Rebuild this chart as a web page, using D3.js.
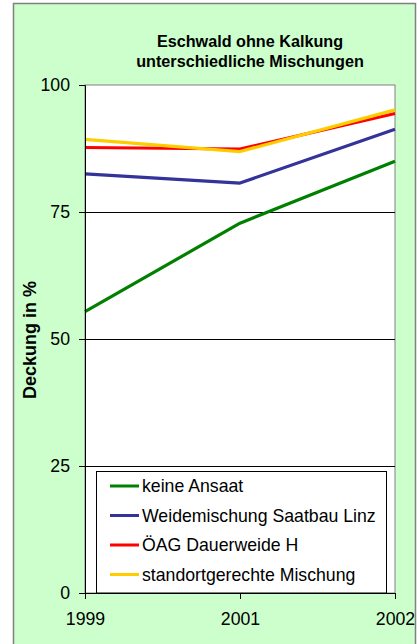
<!DOCTYPE html>
<html>
<head>
<meta charset="utf-8">
<script src="https://cdn.jsdelivr.net/npm/d3@7"></script>
<style>
html,body{margin:0;padding:0;background:#fff;}
svg{display:block;font-family:"Liberation Sans",Arial,sans-serif;}
</style>
</head>
<body>
<svg id="c" width="419" height="644"></svg>
<script>
const years = ["1999", "2001", "2002"];
const seriesNames = ["keine Ansaat", "Weidemischung Saatbau Linz", "ÖAG Dauerweide H", "standortgerechte Mischung"];
const keineAnsaat = [55.4, 72.8, 85.0];
const weidemischung = [82.5, 80.7, 91.3];
const oeagDauerweide = [87.7, 87.4, 94.4];
const standortgerecht = [89.3, 86.9, 95.1];
const seriesColors = ["#008000", "#333399", "#FF0000", "#FFCC00"];
const yTicks = [0, 25, 50, 75, 100];
const titleLines = ["Eschwald ohne Kalkung", "unterschiedliche Mischungen"];
const yTitle = "Deckung in %";

const series = [keineAnsaat, weidemischung, oeagDauerweide, standortgerecht];

const svg = d3.select("#c");
const L = 85, R = 395, T = 85, B = 593;

// chart area
svg.append("rect").attr("x", 13.5).attr("y", 3.5).attr("width", 402).attr("height", 660)
  .attr("fill", "#CCFFCC").attr("stroke", "#808080").attr("stroke-width", 1.5);

const x = d3.scalePoint().domain(years).range([L, R]);
const y = d3.scaleLinear().domain([0, 100]).range([B, T]);

// plot area
svg.append("rect").attr("x", L).attr("y", T).attr("width", R - L).attr("height", B - T)
  .attr("fill", "#fff").attr("stroke", "#808080").attr("stroke-width", 1);

// gridlines
svg.append("g").selectAll("line").data(yTicks.filter(d => d > 0 && d < 100)).join("line")
  .attr("x1", L).attr("x2", R).attr("y1", d => Math.round(y(d)) + 0.5).attr("y2", d => Math.round(y(d)) + 0.5)
  .attr("stroke", "#000").attr("stroke-width", 1);

// legend box
const legX = 96.5, legY = 471.5, legW = 290, legH = B - 471.5;
const leg = svg.append("g");
leg.append("rect").attr("x", legX).attr("y", legY).attr("width", legW).attr("height", legH)
  .attr("fill", "#fff").attr("stroke", "#000").attr("stroke-width", 1);

// lines
const line = d3.line().x((d, i) => x(years[i])).y(d => y(d));
svg.append("g").selectAll("path").data(series).join("path")
  .attr("d", d => line(d)).attr("fill", "none")
  .attr("stroke", (d, i) => seriesColors[i]).attr("stroke-width", 3.2)
  .attr("stroke-linejoin", "round");

// legend entries
seriesNames.forEach((name, i) => {
  const cy = 486 + i * 29.5;
  leg.append("line").attr("x1", 110).attr("x2", 139).attr("y1", cy).attr("y2", cy)
    .attr("stroke", seriesColors[i]).attr("stroke-width", 3);
  leg.append("text").attr("x", 142).attr("y", cy).attr("dy", "0.35em")
    .attr("font-size", 17.7).attr("fill", "#000").text(name);
});

// y axis
const yAxis = svg.append("g").attr("transform", `translate(${L},0)`)
  .call(d3.axisLeft(y).tickValues(yTicks).tickSize(6).tickPadding(9).tickFormat(d3.format("d")));
yAxis.select(".domain").attr("stroke", "#000");
yAxis.selectAll(".tick line").attr("stroke", "#000");
yAxis.selectAll("text").attr("font-size", 17.7).attr("font-family", "Liberation Sans, Arial, sans-serif").attr("fill", "#000");

// x axis
const xAxis = svg.append("g").attr("transform", `translate(0,${B})`)
  .call(d3.axisBottom(x).tickSize(6).tickSizeOuter(0));
xAxis.select(".domain").attr("stroke", "#000");
xAxis.selectAll(".tick line").attr("stroke", "#000");
xAxis.selectAll("text").attr("font-size", 17.7).attr("font-family", "Liberation Sans, Arial, sans-serif")
  .attr("fill", "#000").attr("y", 32).attr("dy", 0);

// title
svg.append("g").selectAll("text").data(titleLines).join("text")
  .attr("x", 250).attr("y", (d, i) => 47 + i * 19.7).attr("text-anchor", "middle")
  .attr("font-size", 16.2).attr("font-weight", "bold").attr("fill", "#000").text(d => d);

// y axis title
svg.append("text").attr("transform", "translate(36,340) rotate(-90)")
  .attr("text-anchor", "middle").attr("font-size", 18).attr("font-weight", "bold")
  .attr("fill", "#000").text(yTitle);
</script>
</body>
</html>
